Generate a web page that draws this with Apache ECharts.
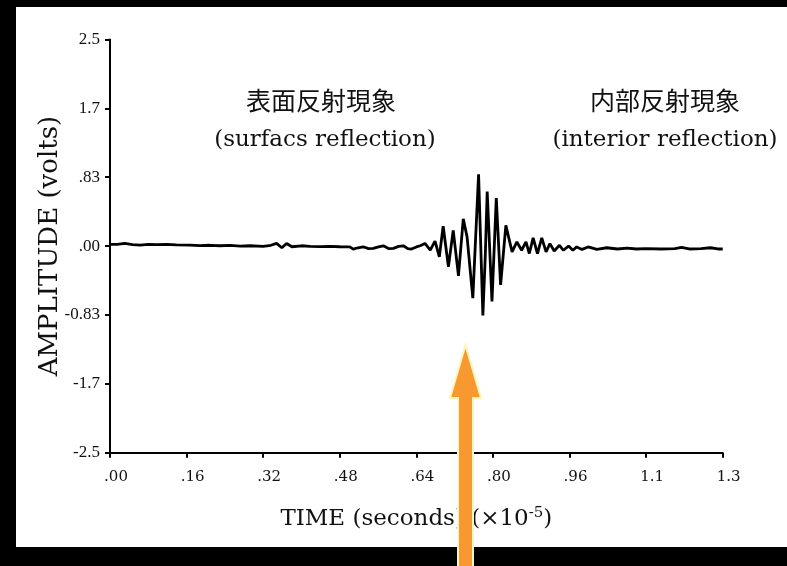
<!DOCTYPE html>
<html>
<head>
<meta charset="utf-8">
<script src="https://cdn.jsdelivr.net/npm/echarts@6/dist/echarts.min.js"></script>
<style>
  html, body { margin: 0; padding: 0; background: #000; }
  #wrap { position: relative; width: 787px; height: 566px; overflow: hidden; background: #000; }
  #paper { position: absolute; left: 16px; top: 7px; width: 771px; height: 540px; background: #fff; }
  #chart { position: absolute; left: 0; top: 0; width: 787px; height: 566px; }
</style>
</head>
<body>
<div id="wrap">
  <div id="paper"></div>
  <div id="chart"></div>
</div>
<script>
// Time samples (×10^-5 s) and measured amplitude (volts)
const timeValues = [
  0, 0.015, 0.031, 0.047, 0.063, 0.080, 0.098, 0.118, 0.139, 0.167,
  0.188, 0.209, 0.230, 0.251, 0.272, 0.293, 0.320, 0.336, 0.348, 0.359,
  0.369, 0.380, 0.400, 0.418, 0.440, 0.460, 0.480, 0.501, 0.508, 0.518,
  0.529, 0.540, 0.550, 0.561, 0.571, 0.582, 0.592, 0.603, 0.613, 0.622,
  0.630, 0.640, 0.648, 0.658, 0.669, 0.679, 0.688,
  0.696, 0.707, 0.717, 0.728, 0.738, 0.746, 0.758, 0.770, 0.779, 0.784,
  0.788, 0.798, 0.807, 0.816, 0.827, 0.840,
  0.850, 0.860, 0.869, 0.876, 0.884, 0.893, 0.902, 0.911, 0.919, 0.928,
  0.939, 0.947, 0.958, 0.967, 0.975, 0.986, 0.999, 1.017, 1.038, 1.060,
  1.080, 1.100, 1.120, 1.150, 1.180, 1.194, 1.210, 1.235, 1.254, 1.270, 1.280
];
const amplitudeValues = [
  0.020, 0.022, 0.032, 0.018, 0.012, 0.020, 0.018, 0.020, 0.015, 0.012,
  0.006, 0.010, 0.004, 0.008, 0.000, 0.004, -0.004, 0.010, 0.032, -0.020,
  0.032, -0.008, 0.004, -0.004, -0.006, -0.004, -0.008, -0.010, -0.036, -0.020,
  -0.008, -0.030, -0.028, -0.010, 0.004, -0.030, -0.028, -0.004, 0.004, -0.030,
  -0.036, -0.010, 0.004, 0.032, -0.048, 0.060, -0.130,
  0.24, -0.25, 0.19, -0.36, 0.33, 0.11, -0.63, 0.87, -0.84, -0.12,
  0.66, -0.67, 0.58, -0.47, 0.25, -0.07,
  0.05, -0.05, 0.05, -0.09, 0.10, -0.09, 0.10, -0.07, 0.03, -0.06,
  0.01, -0.05, 0.00, -0.05, -0.01, -0.04, -0.01, -0.04, -0.02, -0.035,
  -0.025, -0.035, -0.030, -0.035, -0.030, -0.015, -0.035, -0.030, -0.020, -0.035, -0.035
];

// Tick labels as printed on the axes
const xTickLabels = ['.00', '.16', '.32', '.48', '.64', '.80', '.96', '1.1', '1.3'];
const yTickLabels = ['-2.5', '-1.7', '-0.83', '.00', '.83', '1.7', '2.5'];

// Annotation texts
const surfaceTitle = '表面反射現象';
const surfaceSub = '(surfacs reflection)';
const interiorTitle = '内部反射現象';
const interiorSub = '(interior reflection)';

const X_STEP = 0.16;
const Y_STEP = 2.5 / 3;

const seriesData = timeValues.map((t, i) => [t, amplitudeValues[i]]);

const serif = 'DejaVu Serif';
const timesLike = 'Liberation Serif';
const cjk = '"Noto Sans CJK JP", "Noto Sans CJK TC", sans-serif';

const chart = echarts.init(document.getElementById('chart'), null, { renderer: 'canvas' });

chart.setOption({
  backgroundColor: 'transparent',
  animation: false,
  grid: { left: 110, right: 64.3, top: 39.5, bottom: 113.3, containLabel: false },
  xAxis: {
    type: 'value',
    min: 0,
    max: X_STEP * 8,
    interval: X_STEP,
    name: 'TIME (seconds) (×10{sup|-5})',
    nameLocation: 'middle',
    nameGap: 53,
    nameTextStyle: {
      fontFamily: serif, fontSize: 23, color: '#111',
      rich: { sup: { fontFamily: serif, fontSize: 15, color: '#111', verticalAlign: 'top', padding: [0, 0, 12, 0] } }
    },
    axisLine: { show: true, onZero: false, lineStyle: { color: '#000', width: 2 } },
    axisTick: { show: true, inside: false, length: 5, lineStyle: { color: '#000', width: 2 } },
    axisLabel: {
      show: true, margin: 17, fontFamily: serif, fontSize: 15, color: '#111',
      padding: [0, 0, 0, 12],
      showMinLabel: true, showMaxLabel: true,
      formatter: v => xTickLabels[Math.round(v / X_STEP)] ?? ''
    },
    splitLine: { show: false }
  },
  yAxis: {
    type: 'value',
    min: -2.5,
    max: 2.5,
    interval: Y_STEP,
    name: 'AMPLITUDE (volts)',
    nameLocation: 'middle',
    nameGap: 47,
    nameMoveOverlap: false,
    nameRotate: 90,
    nameTextStyle: { fontFamily: serif, fontSize: 26, color: '#111' },
    axisLine: { show: true, onZero: false, lineStyle: { color: '#000', width: 2 } },
    axisTick: { show: true, inside: false, length: 5, lineStyle: { color: '#000', width: 2 } },
    axisLabel: {
      show: true, margin: 10, fontFamily: timesLike, fontSize: 17, color: '#111',
      showMinLabel: true, showMaxLabel: true,
      formatter: v => yTickLabels[Math.round((v + 2.5) / Y_STEP)] ?? ''
    },
    splitLine: { show: false }
  },
  series: [{
    type: 'line',
    data: seriesData,
    showSymbol: false,
    symbol: 'none',
    smooth: false,
    lineStyle: { color: '#000', width: 2.8 },
    z: 3
  }],
  graphic: [
    { type: 'text', z: 10, style: { text: surfaceTitle, x: 321, y: 100, align: 'center', verticalAlign: 'middle', font: '25px ' + cjk, fill: '#111' } },
    { type: 'text', z: 10, style: { text: surfaceSub, x: 325, y: 140, align: 'center', verticalAlign: 'middle', font: '23px "' + serif + '"', fill: '#111' } },
    { type: 'text', z: 10, style: { text: interiorTitle, x: 665, y: 100, align: 'center', verticalAlign: 'middle', font: '25px ' + cjk, fill: '#111' } },
    { type: 'text', z: 10, style: { text: interiorSub, x: 665, y: 140, align: 'center', verticalAlign: 'middle', font: '23px "' + serif + '"', fill: '#111' } },
    {
      type: 'polygon', z: 20,
      shape: { points: [[465.5, 345], [481, 398], [473, 398], [473, 572], [458, 572], [458, 398], [450, 398]] },
      style: { fill: '#F8992F', stroke: '#FFF4B8', lineWidth: 2 }
    }
  ]
});
</script>
</body>
</html>
